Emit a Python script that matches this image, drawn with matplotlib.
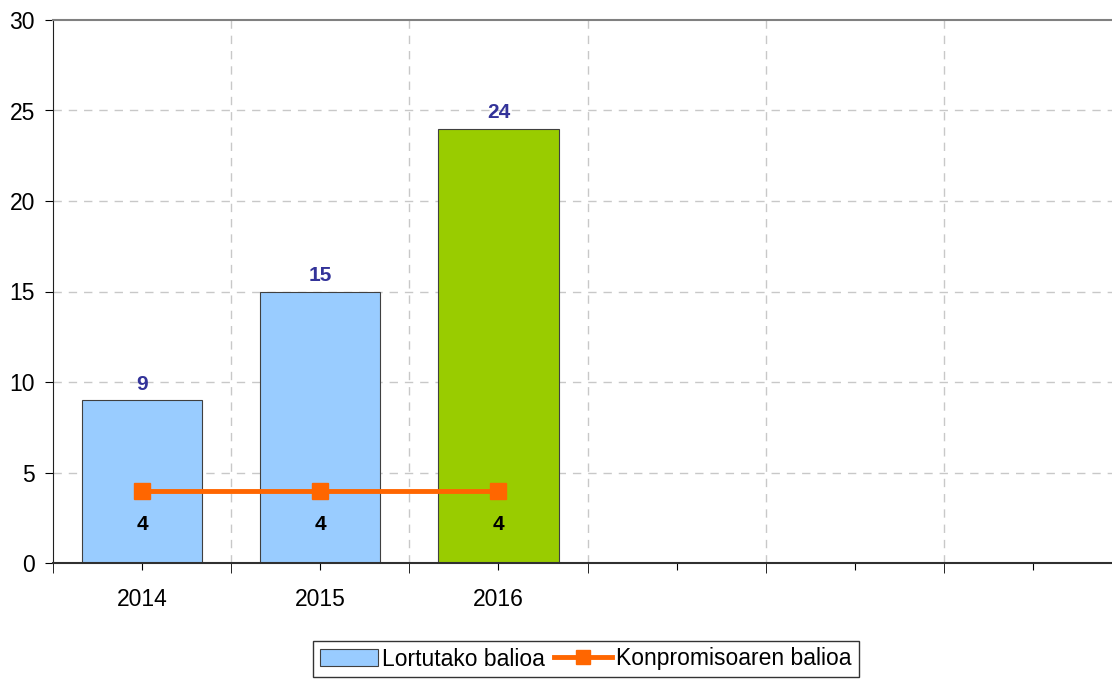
#!/usr/bin/env python
# coding: utf-8

# Bar chart with commitment line (Lortutako / Konpromisoaren balioa)

import matplotlib.pyplot as plt
from matplotlib.lines import Line2D
from matplotlib.patches import Patch
import numpy as np

# -------------------- data
years = ['2014', '2015', '2016', '', '', '']
achieved = [9, 15, 24]
commitment = [4, 4, 4]
bar_colors = ['#99CCFF', '#99CCFF', '#99CC00']

plt.rcParams['font.family'] = ['Liberation Sans', 'DejaVu Sans']

fig = plt.figure(figsize=(11.12, 6.79), dpi=100)
ax = fig.add_axes([53 / 1112, 1 - 563 / 679, (1122 - 53) / 1112, (563 - 20) / 679])

x = np.arange(len(achieved))
ax.bar(x, achieved, width=0.675, color=bar_colors, edgecolor='#404040', linewidth=0.8, zorder=2)
ax.plot(x, commitment, color='#FF6600', linewidth=3.5, marker='s', markersize=12, zorder=3)

for xi, v in zip(x, achieved):
    ax.text(xi, v + 0.35, str(v), ha='center', va='bottom', fontsize=15, fontweight='bold', color='#333399')
for xi, v in zip(x, commitment):
    ax.text(xi, v - 1.35, str(v), ha='center', va='top', fontsize=15, fontweight='bold', color='black')

ax.set_xlim(-0.5, len(years) - 0.5)
ax.set_ylim(0, 30)
ax.set_yticks(np.arange(0, 31, 5))

# category labels at centres, tick marks at centres and boundaries
ax.set_xticks(np.arange(len(years)))
ax.set_xticklabels(years)
ax.set_xticks(np.arange(-0.5, len(years), 1), minor=True)
ax.tick_params(axis='x', which='major', length=5, pad=13, labelsize=16.5, color='black')
ax.tick_params(axis='x', which='minor', length=7, color='black')
ax.tick_params(axis='y', length=5.5, labelsize=16.5, pad=7.5)

# grid
for yv in np.arange(5, 30, 5):
    ax.axhline(yv, color='#C8C8C8', linestyle=(0, (6, 5)), linewidth=1, zorder=0)
for xv in np.arange(0.5, len(years) - 0.5, 1):
    ax.axvline(xv, color='#C8C8C8', linestyle=(0, (6, 5)), linewidth=1, zorder=0)

ax.spines['left'].set_color('#202020')
ax.spines['bottom'].set_color('#303030')
ax.spines['bottom'].set_linewidth(1.5)
ax.spines['top'].set_color('#808080')
ax.spines['top'].set_linewidth(1.5)
ax.spines['right'].set_visible(False)

handles = [Patch(facecolor='#99CCFF', edgecolor='#404040', linewidth=0.8),
           Line2D([0], [0], color='#FF6600', linewidth=3.5, marker='s', markersize=10)]
fig.legend(handles, ['Lortutako balioa', 'Konpromisoaren balioa'], loc='center',
           bbox_to_anchor=(586 / 1112, 1 - 659 / 679), ncol=2, fontsize=16.5,
           frameon=True, fancybox=False, edgecolor='black', borderpad=0.3,
           handlelength=2.5, handletextpad=0.2, columnspacing=0.4)

fig.savefig('out.png', dpi=100)
